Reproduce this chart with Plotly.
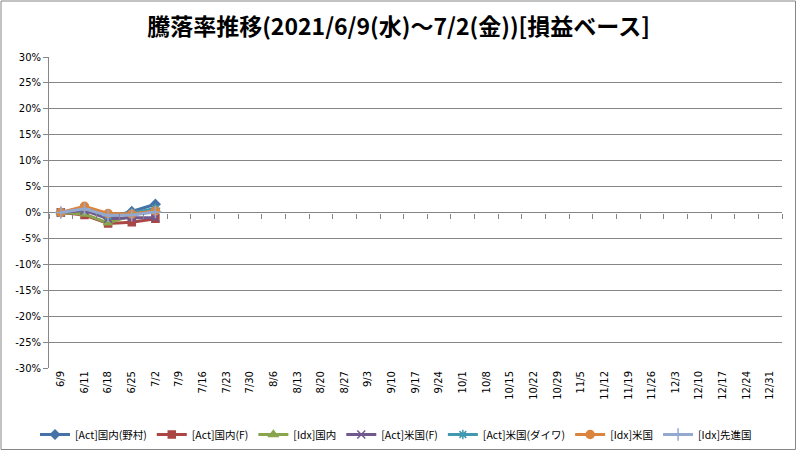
import plotly.graph_objects as go

# 週次の日付カテゴリ
dates = ["6/9", "6/11", "6/18", "6/25", "7/2", "7/9", "7/16", "7/23", "7/30",
         "8/6", "8/13", "8/20", "8/27", "9/3", "9/10", "9/17", "9/24", "10/1",
         "10/8", "10/15", "10/22", "10/29", "11/5", "11/12", "11/19", "11/26",
         "12/3", "12/10", "12/17", "12/24", "12/31"]

# 騰落率(%)  ※7/2までのみ
act_jp_nomura = [0.0, 0.6, -1.0, 0.2, 1.6]
act_jp_f = [0.0, -0.5, -2.1, -1.9, -1.2]
idx_jp = [0.0, -0.3, -2.0, -0.6, 0.6]
act_us_f = [0.0, 0.4, -1.2, -1.0, -1.0]
act_us_daiwa = [0.0, 0.9, -0.7, -0.1, 0.8]
idx_us = [0.0, 1.2, -0.2, -0.3, 0.3]
idx_dev = [0.0, 0.7, -0.6, -0.5, 0.1]

y_ticks = list(range(-30, 31, 5))
y_tick_text = [f"{v}%" for v in y_ticks]

series = [
    ("[Act]国内(野村)", act_jp_nomura, "#4572A7", "diamond", 7),
    ("[Act]国内(F)", act_jp_f, "#AA4643", "square", 7),
    ("[Idx]国内", idx_jp, "#89A54E", "triangle-up", 8),
    ("[Act]米国(F)", act_us_f, "#71588F", "x-thin-open", 8),
    ("[Act]米国(ダイワ)", act_us_daiwa, "#4198AF", "asterisk-open", 8),
    ("[Idx]米国", idx_us, "#DB843D", "circle", 8),
    ("[Idx]先進国", idx_dev, "#93A9CF", "cross-thin-open", 9),
]

fig = go.Figure()

for name, vals, color, symbol, size in series:
    fig.add_trace(go.Scatter(
        x=dates[:len(vals)], y=vals,
        mode="lines+markers",
        name=name,
        line=dict(color=color, width=3),
        marker=dict(symbol=symbol, size=size, color=color,
                    line=dict(color=color, width=1.5)),
    ))

# 0%の位置に目盛り付きの横軸を描くためのダミー
fig.add_trace(go.Scatter(x=dates, y=[None] * len(dates), xaxis="x2",
                         showlegend=False, hoverinfo="skip"))

L, R, T, B = 49, 15, 57, 83
W, H = 797, 451
pw, ph = W - L - R, H - T - B

fig.update_layout(
    width=W, height=H,
    margin=dict(l=L, r=R, t=T, b=B, autoexpand=False),
    paper_bgcolor="white",
    plot_bgcolor="white",
    font=dict(family="DejaVu Sans", size=10, color="black"),
    title=dict(text="<b>騰落率推移(2021/6/9(水)～7/2(金))[損益ベース]</b>",
               x=0.5, xanchor="center", y=0.94, yanchor="middle",
               font=dict(family="Noto Sans CJK JP", size=23)),
    xaxis=dict(
        type="category", categoryorder="array", categoryarray=dates,
        range=[-0.5, len(dates) - 0.5],
        tickangle=-90, showgrid=False, showline=False, ticks="",
        tickfont=dict(size=10),
    ),
    xaxis2=dict(
        type="category", categoryorder="array", categoryarray=dates,
        range=[-0.5, len(dates) - 0.5],
        overlaying="x", anchor="free", position=0.5,
        showticklabels=False, showgrid=False, showline=False,
        ticks="outside", tickson="boundaries", ticklen=5,
        tickcolor="#868686", tickwidth=1,
    ),
    yaxis=dict(
        range=[-30, 30], tickvals=y_ticks, ticktext=y_tick_text,
        showgrid=True, gridcolor="#868686", gridwidth=1,
        zeroline=False,
        showline=True, linecolor="#868686", linewidth=1,
        ticks="outside", ticklen=5, tickcolor="#868686",
        tickfont=dict(size=10),
    ),
    legend=dict(orientation="h", x=-14 / pw, xanchor="left",
                y=-(420 - T - ph) / ph, yanchor="top",
                font=dict(family="Noto Sans CJK JP", size=10.5),
                itemwidth=30, tracegroupgap=0),
    shapes=[dict(type="rect", xref="paper", yref="paper",
                 x0=-(L - 1) / pw, x1=1 + (R - 1.5) / pw,
                 y0=-(B - 1.5) / ph, y1=1 + (T - 1) / ph,
                 line=dict(color="#868686", width=1))],
)

# ページ余白を消して図を左上に合わせる
fig.write_html("out.html", config={"displayModeBar": False},
               post_script="document.body.style.margin='0';")
